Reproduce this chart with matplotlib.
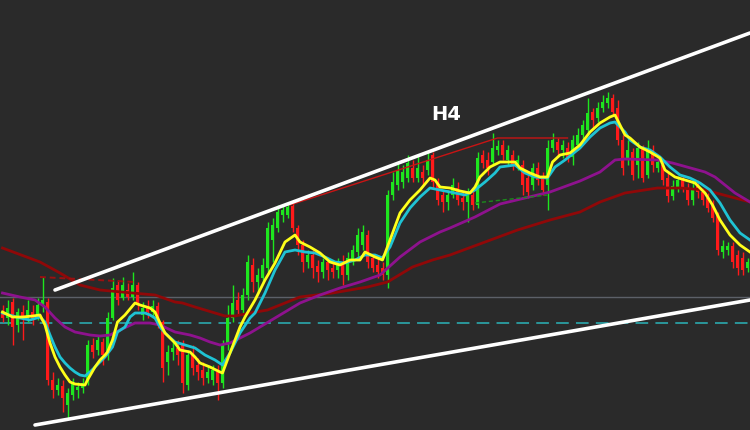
import matplotlib
matplotlib.use("Agg")
import matplotlib.pyplot as plt
import numpy as np

# --- candle data (price in points, one candle per H4 bar) ---
opens = [118, 112, 128, 105, 118, 112, 118, 114, 125, 128,
         50, 40, 44, 25, 35, 40, 42, 48, 85, 80,
         88, 75, 112, 145, 132, 140, 133, 145, 115, 122,
         118, 124, 108, 68, 78, 82, 85, 45, 75, 65,
         60, 52, 50, 58, 47, 85, 112, 130, 120, 135,
         165, 148, 152, 162, 190, 202, 215, 215, 224, 202,
         185, 168, 175, 164, 158, 168, 162, 160, 168, 155,
         170, 178, 185, 195, 172, 165, 162, 155, 235, 245,
         248, 252, 262, 252, 258, 260, 275, 248, 235, 228,
         235, 242, 232, 228, 235, 225, 275, 270, 268, 280,
         285, 270, 275, 265, 265, 252, 245, 262, 252, 245,
         282, 288, 280, 282, 273, 285, 295, 300, 318, 312,
         322, 327, 332, 322, 290, 270, 278, 265, 282, 255,
         280, 262, 265, 252, 234, 242, 250, 242, 230, 245,
         238, 232, 225, 215, 178, 180, 184, 175, 172, 162]
highs = [125, 130, 132, 122, 125, 130, 125, 132, 153, 132,
         58, 52, 50, 42, 52, 48, 52, 90, 92, 95,
         92, 118, 152, 150, 153, 147, 158, 148, 128, 130,
         130, 128, 110, 85, 88, 90, 90, 80, 85, 72,
         68, 65, 65, 65, 90, 125, 145, 138, 142, 175,
         172, 162, 172, 208, 212, 225, 225, 227, 227, 205,
         190, 180, 180, 170, 172, 172, 168, 172, 175, 178,
         185, 202, 205, 200, 175, 172, 168, 240, 258, 268,
         265, 275, 270, 275, 265, 278, 278, 252, 240, 240,
         252, 248, 238, 242, 240, 278, 280, 278, 297, 290,
         290, 285, 280, 275, 270, 258, 267, 268, 258, 290,
         297, 292, 290, 288, 295, 302, 310, 332, 322, 328,
         335, 338, 336, 330, 295, 290, 282, 288, 285, 290,
         285, 275, 270, 258, 250, 254, 255, 247, 248, 250,
         242, 237, 230, 218, 190, 188, 188, 180, 178, 172]
lows = [108, 105, 85, 98, 90, 108, 105, 110, 118, 45,
        32, 35, 18, 12, 30, 32, 37, 45, 72, 75,
        65, 70, 110, 125, 130, 130, 130, 120, 110, 112,
        112, 102, 48, 55, 70, 65, 37, 40, 55, 50,
        45, 47, 45, 30, 42, 80, 108, 115, 115, 130,
        138, 138, 148, 158, 168, 198, 208, 212, 198, 175,
        158, 162, 152, 148, 152, 150, 152, 152, 145, 150,
        165, 172, 180, 162, 158, 152, 150, 142, 230, 240,
        242, 248, 248, 248, 245, 255, 242, 225, 218, 220,
        232, 225, 220, 208, 220, 222, 262, 255, 265, 275,
        270, 265, 260, 260, 235, 232, 240, 245, 235, 220,
        278, 275, 272, 268, 265, 280, 290, 295, 302, 308,
        318, 322, 315, 285, 255, 265, 250, 252, 248, 252,
        258, 258, 245, 228, 230, 238, 238, 225, 225, 232,
        225, 218, 208, 175, 172, 175, 162, 155, 155, 158]
closes = [112, 122, 103, 118, 112, 120, 112, 125, 130, 50,
          40, 45, 32, 37, 47, 43, 47, 85, 78, 90,
          75, 112, 142, 130, 145, 133, 145, 127, 122, 118,
          124, 108, 62, 78, 82, 75, 47, 75, 62, 58,
          52, 58, 60, 47, 85, 112, 127, 120, 135, 168,
          148, 155, 165, 202, 205, 218, 220, 223, 202, 185,
          168, 175, 162, 158, 168, 160, 158, 168, 155, 172,
          180, 195, 198, 168, 162, 158, 155, 235, 248, 260,
          258, 267, 252, 262, 252, 270, 248, 230, 228, 235,
          245, 230, 228, 235, 225, 272, 267, 262, 282, 284,
          275, 280, 265, 270, 245, 238, 262, 250, 240, 282,
          290, 280, 285, 273, 290, 295, 305, 317, 310, 322,
          328, 332, 318, 290, 262, 280, 255, 282, 252, 282,
          265, 268, 250, 234, 244, 250, 242, 230, 242, 238,
          230, 222, 212, 180, 184, 184, 168, 162, 160, 168]

# --- moving averages (bar position, price) ---
fast_x = [0, 2, 4, 6, 7.5, 8.5, 9.5, 10.5, 11.5, 12.5, 13.5, 14.5, 16.5, 17, 18.5, 19.5,
          20.5, 21, 22, 23, 24.5, 26.5, 27.5, 29.5, 30.5, 31.5, 32.5, 34.5, 35.5, 37.5,
          38.5, 39.5, 41.5, 43.5, 44, 45.5, 47.5, 48.5, 50.5, 52.5, 54.5, 56.5, 58.5,
          59.5, 61.5, 63.5, 65.5, 67.5, 69.5, 71.5, 72.5, 74.5, 76, 77.5, 79.5, 81.5,
          83.5, 85.5, 86.5, 87.5, 89.5, 91.5, 93.5, 94.5, 95.5, 97.5, 99.5, 102.5,
          103.5, 105.5, 107.5, 109, 110, 111.5, 113.5, 115.5, 117.5, 119.5, 121.5,
          122.5, 123.5, 124.5, 125.5, 127.5, 129.5, 131.5, 132.5, 134.5, 136.5, 138.5,
          139.5, 140.5, 142, 143.5, 145.5, 147.5, 149.5]
fast_y = [118, 113, 113, 114, 115, 105, 87, 73, 63, 55, 48, 46, 45, 50, 63, 70,
          75, 78, 90, 108, 115, 127, 125, 122, 118, 107, 97, 87, 80, 78,
          73, 67, 63, 58, 57, 77, 103, 113, 130, 150, 167, 188, 195,
          188, 183, 177, 168, 165, 170, 170, 178, 173, 170, 190, 217, 230,
          240, 252, 250, 243, 242, 239, 237, 243, 253, 263, 268, 268,
          262, 257, 253, 253, 268, 275, 277, 285, 298, 307, 313,
          315, 305, 295, 292, 283, 278, 272, 260, 253, 250, 247,
          242, 237, 225, 210, 195, 185, 178]
mid_x = [0, 3.5, 5.5, 7.5, 8.5, 9.5, 10.5, 11.5, 12.5, 13.5, 14.5, 15.5, 16.5, 17.5,
         18.5, 19.5, 20.5, 22, 23, 24.5, 25.5, 26.5, 28.5, 29.5, 30.5, 31.5, 32.5,
         34.5, 36.5, 38.5, 40.5, 42.5, 44, 45.5, 47.5, 49.5, 50.5, 52.5, 54.5, 56.5,
         58.5, 60.5, 62.5, 64.5, 66.5, 68.5, 70.5, 72.5, 74.5, 76, 77.5, 79.5, 81.5,
         83.5, 85.5, 87.5, 89.5, 92.5, 94.5, 96.5, 98.5, 99.5, 102.5, 104.5, 106.5,
         109, 110.5, 112.5, 115.5, 117.5, 119.5, 121.5, 122.5, 124.5, 125.5, 127.5,
         129.5, 131.5, 133.5, 135.5, 137.5, 139.5, 141.5, 143.5, 145.5, 147.5, 149.5]
mid_y = [117, 112, 110, 113, 108, 95, 83, 73, 67, 62, 58, 55, 54, 58,
         63, 68, 73, 83, 98, 103, 113, 117, 117, 115, 112, 103, 97,
         88, 85, 82, 75, 70, 65, 77, 97, 112, 117, 137, 160, 178,
         180, 178, 177, 173, 168, 167, 170, 175, 175, 172, 183, 207, 222,
         233, 242, 240, 238, 235, 240, 248, 257, 263, 265, 257, 253,
         252, 263, 270, 282, 293, 302, 307, 308, 298, 290, 283,
         280, 273, 263, 255, 252, 247, 240, 227, 210, 197, 190]
slow_x = [0, 3.5, 6.5, 8.5, 10.5, 12.5, 14.5, 17.5, 19.5, 21.5, 23.5, 26.5, 29.5,
          31.5, 34.5, 37.5, 39.5, 41.5, 43.5, 45.5, 47.5, 49.5, 51.5, 55.5, 59.5,
          63.5, 67.5, 71.5, 75.5, 79.5, 83.5, 87.5, 89.5, 94.5, 99.5, 109.5, 115.5,
          119.5, 122.5, 124.5, 131, 134, 140.5, 142.5, 146.5, 149.5]
slow_y = [137, 133, 130, 123, 112, 103, 98, 95, 94, 95, 100, 107, 107,
          105, 98, 95, 92, 88, 85, 87, 92, 97, 103, 115, 127,
          135, 142, 148, 155, 173, 188, 198, 202, 213, 226, 238, 249,
          258, 270, 271, 270, 267, 258, 253, 237, 228]
base_x = [0, 7.5, 11.5, 15.5, 19.5, 26, 30.5, 34.5, 36, 38.5, 42.5, 44.5, 46.5,
          49.5, 53, 59.5, 66, 73, 77, 82, 86, 89.5, 103, 109.5, 115.5, 119.5,
          124.5, 131, 135.5, 140.5, 142, 149.5]
base_y = [182, 168, 157, 145, 140, 137, 135, 128, 127, 123, 117, 114, 114,
          117, 120, 133, 137, 143, 148, 163, 170, 175, 200, 210, 218, 228,
          237, 242, 242, 240, 238, 228]

# --- drawn objects: channel, levels, boxes ---
channel_top_x, channel_top_y = [10.5, 149.5], [140, 397]
channel_bot_x, channel_bot_y = [6.5, 149.5], [5, 130]
level_grey = 133
level_teal = 107
res_dash_x, res_dash_y = [7.5, 26.5], [153, 148]
res_line_x, res_line_y = [57.5, 99, 113], [225, 292, 292]
sup_dash_x, sup_dash_y = [94.5, 109], [227, 235]
label = "H4"

BG = "#2a2a2a"
UP = "#1ee61e"
DOWN = "#ff1a1a"

fig = plt.figure(figsize=(7.5, 4.3), dpi=100, facecolor=BG)
ax = fig.add_axes([0, 0, 1, 1])
ax.set_facecolor(BG)

o = np.array(opens, float)
h = np.array(highs, float)
l = np.array(lows, float)
c = np.array(closes, float)
idx = np.arange(len(o))
colors = np.where(c >= o, UP, DOWN)

# horizontal levels under the candles
ax.axhline(level_grey, color="#5c6068", lw=1.0, zorder=1)
ax.axhline(level_teal, color="#2a9fa3", lw=1.3, ls=(0, (7, 4)), zorder=1)

# candles
ax.vlines(idx, l, h, colors=colors, lw=1.0, zorder=2)
body = np.maximum(np.abs(c - o), 1.0)
ax.bar(idx, body, bottom=np.minimum(o, c), width=0.68, color=colors, linewidth=0, zorder=3)

# moving averages
ax.plot(base_x, base_y, color="#900808", lw=2.0, zorder=4)
ax.plot(slow_x, slow_y, color="#8e128e", lw=2.0, zorder=4)
ax.plot(mid_x, mid_y, color="#1fc3d4", lw=2.0, zorder=5)
ax.plot(fast_x, fast_y, color="#ffff1a", lw=2.0, zorder=6)

# trader's drawings
ax.plot(res_dash_x, res_dash_y, color="#9a1010", lw=1.4, ls=(0, (3, 2)), zorder=4)
ax.plot(res_line_x, res_line_y, color="#c81414", lw=1.0, zorder=4)
ax.plot(sup_dash_x, sup_dash_y, color="#1c8a1c", lw=1.0, ls=(0, (3, 2)), zorder=4)
ax.plot(channel_top_x, channel_top_y, color="white", lw=2.6, solid_capstyle="round", zorder=7)
ax.plot(channel_bot_x, channel_bot_y, color="white", lw=2.6, solid_capstyle="round", zorder=7)

ax.text(88.8, 315, label, color="white", fontsize=14, fontweight="bold",
        ha="center", va="center", zorder=8)

ax.set_xlim(-0.5, len(o) - 0.5)
ax.set_ylim(0, 430)
ax.axis("off")

fig.savefig("out.png", dpi=100, facecolor=BG)
